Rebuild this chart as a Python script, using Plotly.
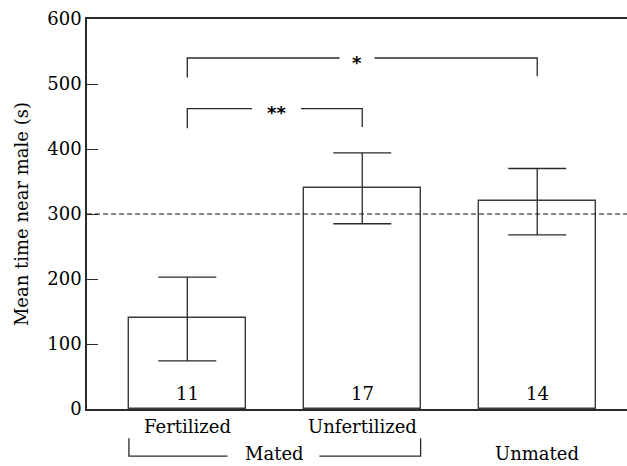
import plotly.graph_objects as go

# ---- data ----
categories = ["Fertilized", "Unfertilized", "Unmated"]
means = [140, 340, 320]
err_plus = [63, 54, 50]
err_minus = [66, 55, 52]
n_values = ["11", "17", "14"]
groups = ["Mated", "Unmated"]
reference_level = 300
# comparisons: (from index, to index, label, bracket height)
comparisons = [(0, 2, "*", 540), (0, 1, "**", 462)]
y_ticks = [0, 100, 200, 300, 400, 500, 600]

# ---- style ----
FONT = "DejaVu Serif"
FS = 18
LC = "#2a2a2a"
BAR_W = 0.667
xpos = list(range(len(categories)))

fig = go.Figure()
fig.add_trace(go.Bar(
    x=xpos, y=means, width=BAR_W,
    marker=dict(color="white", line=dict(color="#3a3a3a", width=1.4)),
    error_y=dict(type="data", array=err_plus, arrayminus=err_minus,
                 color=LC, thickness=1.3, width=29, symmetric=False),
    showlegend=False, hoverinfo="skip",
))

shapes = []
annotations = []

# reference dashed line
shapes.append(dict(type="line", xref="paper", x0=0, x1=1, yref="y",
                   y0=reference_level, y1=reference_level,
                   line=dict(color="#111111", width=1.2, dash="5px,3px"), layer="above"))

# significance brackets
drop = 30
label_x = [0.97, 0.51]
gap_half = [0.1, 0.14]
for (i0, i1, lab, h), lx, gh in zip(comparisons, label_x, gap_half):
    shapes.append(dict(type="path", xref="x", yref="y",
                       path=f"M {i0},{h - drop} L {i0},{h} L {lx - gh},{h}",
                       line=dict(color=LC, width=1.3)))
    shapes.append(dict(type="path", xref="x", yref="y",
                       path=f"M {lx + gh},{h} L {i1},{h} L {i1},{h - drop + 2}",
                       line=dict(color=LC, width=1.3)))
    annotations.append(dict(x=lx, y=h, xref="x", yref="y", text=f"<b>{lab}</b>",
                            showarrow=False, xanchor="center", yanchor="middle",
                            yshift=-4, font=dict(family="DejaVu Sans", size=18, color="black")))

# n labels inside bars
for x, n in zip(xpos, n_values):
    annotations.append(dict(x=x, y=24, xref="x", yref="y", text=n, showarrow=False,
                            xanchor="center", yanchor="middle",
                            font=dict(family=FONT, size=FS, color="black")))

# category labels
for x, c in zip(xpos[:2], categories[:2]):
    annotations.append(dict(x=x, y=-0.046, xref="x", yref="paper", text=c, showarrow=False,
                            xanchor="center", yanchor="middle",
                            font=dict(family=FONT, size=FS, color="black")))

# group labels
y_grp = -0.113
annotations.append(dict(x=0.5, y=y_grp, xref="x", yref="paper", text=groups[0], showarrow=False,
                        xanchor="center", yanchor="middle",
                        font=dict(family=FONT, size=FS, color="black")))
annotations.append(dict(x=2, y=y_grp, xref="x", yref="paper", text=groups[1], showarrow=False,
                        xanchor="center", yanchor="middle",
                        font=dict(family=FONT, size=FS, color="black")))

# group bracket for Mated
gl = xpos[0] - BAR_W / 2
gr = xpos[1] + BAR_W / 2
y_top_b = -0.075
y_bot_b = -0.121
shapes.append(dict(type="path", xref="x", yref="paper",
                   path=f"M {gl},{y_top_b} L {gl},{y_bot_b} L 0.23,{y_bot_b}",
                   line=dict(color=LC, width=1.3)))
shapes.append(dict(type="path", xref="x", yref="paper",
                   path=f"M 0.755,{y_bot_b} L {gr},{y_bot_b} L {gr},{y_top_b}",
                   line=dict(color=LC, width=1.3)))

# y-axis title
annotations.append(dict(x=-0.122, y=0.5, xref="paper", yref="paper",
                        text="Mean time near male (s)", textangle=-90, showarrow=False,
                        xanchor="center", yanchor="middle",
                        font=dict(family=FONT, size=FS, color="black")))

fig.update_layout(
    width=627, height=466,
    margin=dict(l=87, r=0, t=19, b=57),
    paper_bgcolor="white", plot_bgcolor="white",
    shapes=shapes, annotations=annotations,
    bargap=0,
    xaxis=dict(range=[-0.573, 2.513], showticklabels=False, ticks="",
               showgrid=False, zeroline=False, showline=True, mirror=True,
               linecolor=LC, linewidth=1.5, fixedrange=True),
    yaxis=dict(range=[0, 600], tickvals=y_ticks, ticks="inside", ticklen=11,
               tickcolor=LC, tickwidth=1.3, showgrid=False, zeroline=False,
               showline=True, linecolor=LC, linewidth=1.5,
               tickfont=dict(family=FONT, size=FS, color="black")),
)

fig.write_html("out.html", config={"displayModeBar": False},
               post_script="document.body.style.margin='0px';document.body.style.overflow='hidden';")
